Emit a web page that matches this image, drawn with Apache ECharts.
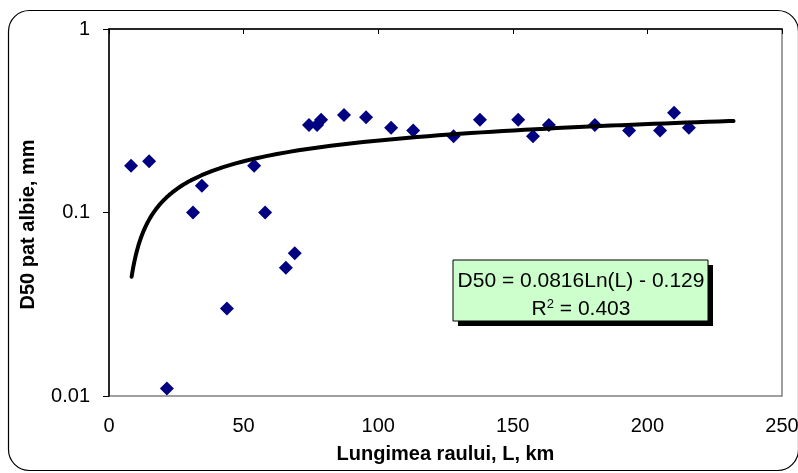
<!DOCTYPE html>
<html>
<head>
<meta charset="utf-8">
<script src="https://cdn.jsdelivr.net/npm/echarts@6/dist/echarts.min.js"></script>
<style>
  html, body { margin: 0; padding: 0; background: #fff; }
  #chart { width: 798px; height: 473px; }
</style>
</head>
<body>
<div id="chart"></div>
<script>
// lungimea raului L (km) si D50 (mm)
const lengthKm = [8.2, 14.9, 21.5, 31.2, 34.5, 43.8, 53.9, 58, 65.7, 69, 74.3, 77.3, 78.8, 87.3, 95.5,
  104.8, 113, 128, 137.8, 152, 157.5, 163.4, 180.5, 193.2, 204.7, 209.9, 215.4]
const d50 = [0.18, 0.19, 0.011, 0.1, 0.14, 0.03, 0.18, 0.1, 0.05, 0.06, 0.30, 0.30, 0.32, 0.34, 0.33,
  0.29, 0.28, 0.26, 0.32, 0.32, 0.26, 0.30, 0.30, 0.28, 0.28, 0.35, 0.29]
const yTicks = [0.01, 0.1, 1]

// linia de tendinta logaritmica: D50 = a*Ln(L) + b
const trendA = 0.0816
const trendB = -0.129
const trendFrom = 8.4
const trendTo = 232

const points = lengthKm.map((l, i) => [l, d50[i]])
const trend = []
for (let l = trendFrom; l <= trendTo; l += (l < 30 ? 0.5 : 4)) {
  trend.push([l, trendA * Math.log(l) + trendB])
}
trend.push([trendTo, trendA * Math.log(trendTo) + trendB])

const font = '"Liberation Sans", Arial, sans-serif'

const chart = echarts.init(document.getElementById('chart'), null, { renderer: 'canvas' })
chart.setOption({
  animation: false,
  backgroundColor: '#fff',
  grid: {
    left: 109,
    right: 16,
    top: 29,
    bottom: 77,
    containLabel: false,
    outerBoundsMode: 'none',
    show: true,
    borderColor: '#808080',
    borderWidth: 1.5
  },
  xAxis: [
    {
      type: 'value',
      position: 'bottom',
      min: 0,
      max: 250,
      interval: 50,
      name: 'Lungimea raului, L, km',
      nameLocation: 'middle',
      nameGap: 48,
      nameTextStyle: { fontFamily: font, fontSize: 20, fontWeight: 'bold', color: '#000' },
      axisLine: { show: false },
      axisTick: { show: false },
      splitLine: { show: false },
      axisLabel: { fontFamily: font, fontSize: 20, color: '#000', margin: 20 }
    },
    {
      type: 'value',
      position: 'top',
      min: 0,
      max: 250,
      interval: 50,
      axisLine: { show: true, lineStyle: { color: '#000', width: 1.5 } },
      axisTick: { show: true, inside: true, length: 5, lineStyle: { color: '#000' } },
      axisLabel: { show: false },
      splitLine: { show: false }
    }
  ],
  yAxis: {
    type: 'log',
    logBase: 10,
    min: 0.01,
    max: 1,
    name: 'D50 pat albie, mm',
    nameLocation: 'middle',
    nameGap: 71,
    nameTextStyle: {
      fontFamily: font, fontSize: 20, fontWeight: 'bold', color: '#000',
      padding: [0, 24, 0, 0]
    },
    axisLine: { show: true, lineStyle: { color: '#000', width: 1.5 } },
    axisTick: { show: true, length: 6, lineStyle: { color: '#000' } },
    splitLine: { show: false },
    minorTick: { show: false },
    axisLabel: {
      fontFamily: font,
      fontSize: 20,
      color: '#000',
      margin: 19,
      formatter: v => {
        const t = yTicks.find(k => Math.abs(k - v) / k < 1e-6)
        return t === undefined ? '' : String(t)
      }
    }
  },
  series: [
    {
      type: 'scatter',
      data: points,
      symbol: 'diamond',
      symbolSize: [14, 14],
      itemStyle: { color: '#000080', opacity: 1 },
      z: 3
    },
    {
      type: 'line',
      data: trend,
      showSymbol: false,
      smooth: false,
      lineStyle: { color: '#000', width: 4, cap: 'round' },
      z: 4
    }
  ],
  graphic: [
    {
      type: 'rect',
      shape: { x: 8.5, y: 10.5, width: 790, height: 460, r: 21 },
      style: { fill: null, stroke: '#000', lineWidth: 1.2 },
      silent: true
    },
    {
      type: 'rect',
      shape: { x: 458, y: 265, width: 255, height: 61 },
      style: { fill: '#000' },
      z: 10
    },
    {
      type: 'rect',
      shape: { x: 453, y: 260, width: 255, height: 61 },
      style: { fill: '#CCFFCC', stroke: '#000', lineWidth: 1 },
      z: 11
    },
    {
      type: 'text',
      x: 581,
      y: 281,
      z: 12,
      style: {
        text: 'D50 = 0.0816Ln(L) - 0.129',
        font: '21px ' + font,
        fill: '#000',
        align: 'center',
        verticalAlign: 'middle'
      }
    },
    {
      type: 'text',
      x: 581,
      y: 309,
      z: 12,
      style: {
        text: '{a|R}{s|2}{a| = 0.403}',
        align: 'center',
        verticalAlign: 'middle',
        rich: {
          a: { fontFamily: font, fontSize: 21, fill: '#000', verticalAlign: 'bottom' },
          s: { fontFamily: font, fontSize: 13, fill: '#000', verticalAlign: 'top', padding: [0, 0, 9, 0] }
        }
      }
    }
  ]
})
</script>
</body>
</html>
